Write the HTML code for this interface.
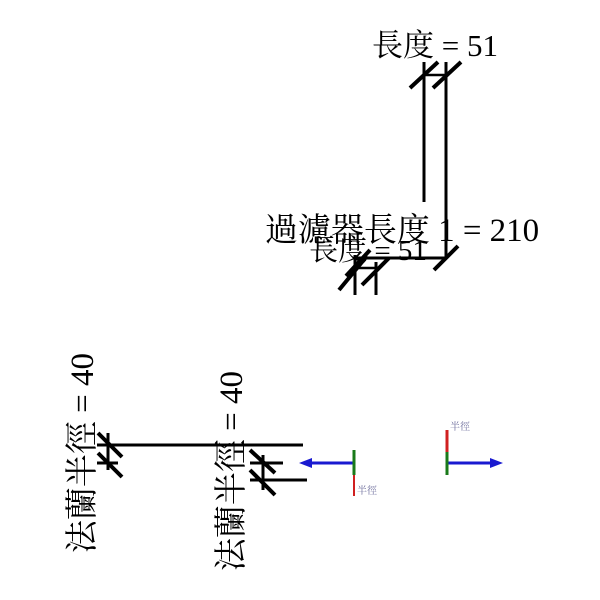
<!DOCTYPE html>
<html><head><meta charset="utf-8"><style>
html,body{margin:0;padding:0;background:#fff;width:600px;height:600px;overflow:hidden}
text{font-family:"Liberation Serif","Noto Serif CJK SC","Noto Sans CJK TC",serif;fill:#000}
</style></head><body>
<svg width="600" height="600" viewBox="0 0 600 600" xmlns="http://www.w3.org/2000/svg">
<g stroke="#000" stroke-width="3" fill="none">
<line x1="424" y1="62" x2="424" y2="202"/>
<line x1="446" y1="62" x2="446" y2="258"/>
<line x1="424" y1="75" x2="446" y2="75" stroke-width="2.5"/>
<line x1="410" y1="88" x2="438" y2="62" stroke-width="4"/>
<line x1="433" y1="88" x2="461" y2="62" stroke-width="4"/>
<line x1="355" y1="258" x2="446" y2="258"/>
<line x1="434" y1="270" x2="458" y2="246" stroke-width="4"/>
<line x1="355" y1="255" x2="355" y2="295"/>
<line x1="376" y1="262" x2="376" y2="295"/>
<line x1="355" y1="268" x2="376" y2="268" stroke-width="2.5"/>
<line x1="339" y1="290" x2="367" y2="256" stroke-width="4"/>
<line x1="346" y1="276" x2="370" y2="250" stroke-width="4"/>
<line x1="362" y1="285" x2="389" y2="258" stroke-width="4"/>

<line x1="97" y1="445" x2="303" y2="445"/>
<line x1="97" y1="463" x2="118" y2="463"/>
<line x1="108" y1="433" x2="108" y2="470"/>
<line x1="98" y1="433" x2="122" y2="457" stroke-width="4"/>
<line x1="98" y1="453" x2="122" y2="477" stroke-width="4"/>
<line x1="250" y1="463" x2="283" y2="463"/>
<line x1="250" y1="480" x2="307" y2="480"/>
<line x1="263" y1="455" x2="263" y2="490"/>
<line x1="250" y1="450" x2="275" y2="473" stroke-width="4"/>
<line x1="250" y1="470" x2="275" y2="495" stroke-width="4"/>
</g>
<text x="435" y="56" font-size="31" text-anchor="middle">長度 = 51</text>
<text x="368" y="260" font-size="29" text-anchor="middle">長度 = 51</text>
<text x="402" y="241" font-size="33" text-anchor="middle">過濾器長度 1 = 210</text>
<text transform="translate(93,453) rotate(-90)" font-size="33" text-anchor="middle">法蘭半徑 = 40</text>
<text transform="translate(242,471) rotate(-90)" font-size="33" text-anchor="middle">法蘭半徑 = 40</text>

<line x1="308" y1="463" x2="354" y2="463" stroke="#1a1ad0" stroke-width="3"/>
<polygon points="299,463 312,458 312,468" fill="#1a1ad0"/>
<line x1="354" y1="450" x2="354" y2="475" stroke="#1a7a1a" stroke-width="3"/>
<line x1="354" y1="475" x2="354" y2="496" stroke="#d02020" stroke-width="2"/>
<text x="357" y="494" font-size="10" style="fill:#6a6a9a" font-family="'Noto Sans CJK TC',sans-serif">半徑</text>

<line x1="447" y1="463" x2="494" y2="463" stroke="#1a1ad0" stroke-width="3"/>
<polygon points="503,463 490,458 490,468" fill="#1a1ad0"/>
<line x1="447" y1="430" x2="447" y2="452" stroke="#d02020" stroke-width="3"/>
<line x1="447" y1="452" x2="447" y2="475" stroke="#1a7a1a" stroke-width="3"/>
<text x="450" y="430" font-size="10" style="fill:#6a6a9a" font-family="'Noto Sans CJK TC',sans-serif">半徑</text>
</svg>
</body></html>
